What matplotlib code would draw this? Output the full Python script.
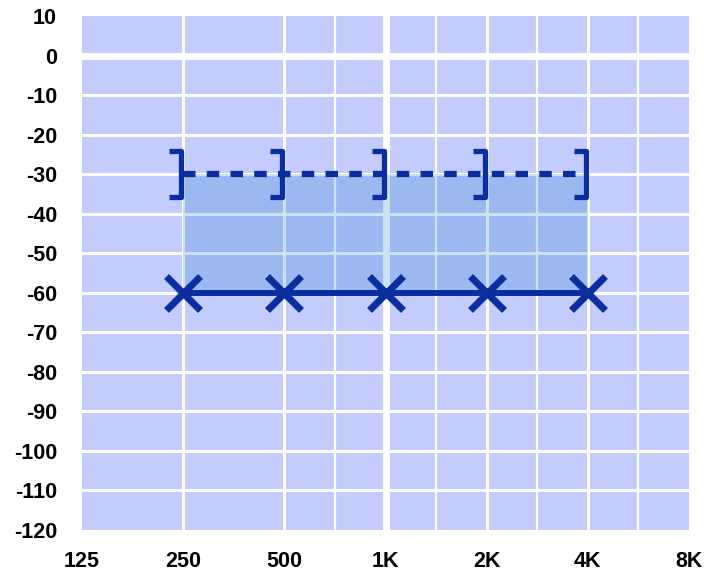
import numpy as np
import matplotlib
matplotlib.use("Agg")
import matplotlib.pyplot as plt
from matplotlib.path import Path

# frequencies (octave positions on a category-like axis)
freq_labels = ["125", "250", "500", "1K", "2K", "4K", "8K"]
test_freqs = ["250", "500", "1K", "2K", "4K"]
x_level = [-60, -60, -60, -60, -60]      # solid line, X markers
bracket_level = [-30, -30, -30, -30, -30]  # dashed line, ] markers
y_ticks = [10, 0, -10, -20, -30, -40, -50, -60, -70, -80, -90, -100, -110, -120]
half_octaves = ["750", "1.5K", "3K", "6K"]

dark = "#0a2ea0"
bg = "#c3ccfd"

pos = {f: i for i, f in enumerate(freq_labels)}
xs = np.array([pos[f] for f in test_freqs])
half_pos = [2.5, 3.5, 4.5, 5.5]

plt.rcParams["font.family"] = ["Liberation Sans", "DejaVu Sans"]

fig = plt.figure(figsize=(7.07, 5.72), dpi=100)
ax = fig.add_axes([82 / 707, 42 / 572, 607 / 707, 514 / 572])
ax.set_facecolor(bg)
ax.set_xlim(0, 6)
ax.set_ylim(-120, 10)
for s in ax.spines.values():
    s.set_visible(False)

# grid lines
for y in y_ticks[1:-1]:
    lw = 5 if y == 0 else 2.2
    ax.axhline(y, color="white", lw=lw, zorder=1)
for i, f in enumerate(freq_labels[1:-1], start=1):
    lw = 5 if f == "1K" else 2.2
    ax.axvline(i, color="white", lw=lw, zorder=1)
for p in half_pos:
    ax.axvline(p, color="white", lw=1.6, zorder=1)

# shaded band between the two curves
ax.fill_between(xs, x_level, bracket_level, color=(0, 0.41, 0.75), alpha=0.2,
                lw=0, zorder=2)

# dashed line with ] markers
bracket = Path([(-0.3, 0.5), (-0.04, 0.5), (-0.04, -0.5), (-0.3, -0.5)],
               [Path.MOVETO, Path.LINETO, Path.LINETO, Path.LINETO])
ax.plot(xs, bracket_level, color=dark, lw=4.5, ls=(0, (2.0, 1.8)), zorder=3)
ax.plot(xs, bracket_level, ls="none", marker=bracket, ms=33, mew=3.8,
        mec=dark, mfc="none", zorder=4)

# solid line with X markers
ax.plot(xs, x_level, color=dark, lw=4.3, zorder=3)
ax.plot(xs, x_level, ls="none", marker="x", ms=25, mew=5, mec=dark, zorder=4)

ax.set_xticks(range(len(freq_labels)))
ax.set_xticklabels(freq_labels)
ax.set_yticks(y_ticks)
ax.set_yticklabels([str(v) for v in y_ticks])
ax.tick_params(axis="both", length=0, labelsize=15.5)
ax.tick_params(axis="y", pad=18)
ax.tick_params(axis="x", pad=15)
for lab in ax.get_xticklabels() + ax.get_yticklabels():
    lab.set_fontweight("bold")

fig.savefig("out.png", dpi=100)
